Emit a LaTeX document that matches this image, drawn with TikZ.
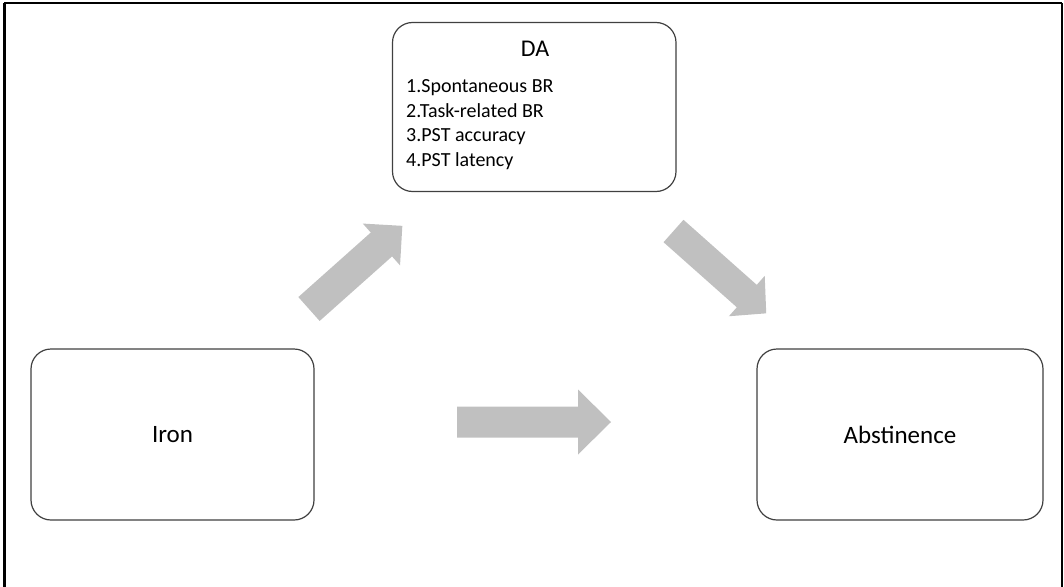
\documentclass[tikz,border=0pt]{standalone}
\usepackage{fontspec}
\setmainfont{Carlito}
\definecolor{boxline}{RGB}{64,64,64}
\definecolor{arrowfill}{RGB}{192,192,192}
\tikzset{
  roundbox/.style={draw=boxline, line width=1.2pt, rounded corners=20pt, fill=white},
  blockarrow/.style={fill=arrowfill, draw=none},
  label/.style={inner sep=0pt, font=\fontsize{25}{30}\selectfont},
  listitem/.style={inner sep=0pt, anchor=base west, font=\fontsize{20}{24}\selectfont}
}
% block arrow along the local x axis: tail at origin, length #1, shaft width #2,
% head width #3, head length #4
\newcommand{\blockarr}[4]{%
  \fill[blockarrow] (0,-#2/2) -- (#1-#4,-#2/2) -- (#1-#4,-#3/2) -- (#1,0)
    -- (#1-#4,#3/2) -- (#1-#4,#2/2) -- (0,#2/2) -- cycle;}
\begin{document}
\begin{tikzpicture}[x=1pt,y=-1pt]
\useasboundingbox (0,0) rectangle (1064,586);
% page frame
\draw[line width=3pt] (4,590) -- (4,3);
\draw[line width=1.5pt] (4,3) -- (1062,3);
\draw[line width=2.5pt] (1062,3) -- (1062,590);

% boxes
\node[roundbox, minimum width=283.5pt, minimum height=169pt, inner sep=0pt] (da) at (534.25,107) {};
\node[roundbox, minimum width=283pt, minimum height=171pt, inner sep=0pt] (iron) at (172.5,434.5) {};
\node[roundbox, minimum width=286pt, minimum height=171pt, inner sep=0pt] (abst) at (900,434.5) {};

% texts
\node[inner sep=0pt, anchor=base, font=\fontsize{24}{28}\selectfont] (datitle) at (535,56.5) {DA};
\node[listitem] (l1) at (406,92.5) {1.Spontaneous BR};
\node[listitem] (l2) at (406,117.2) {2.Task-related BR};
\node[listitem] (l3) at (406,141.9) {3.PST accuracy};
\node[listitem] (l4) at (406,166.6) {4.PST latency};
\node[label] (irontext) at (iron.center) {Iron};
\node[label] (absttext) at (abst.center) {Abstinence};

% block arrows
\begin{scope}[shift={(309,309)}, rotate=41.7]
  \blockarr{125}{32}{56}{28}
\end{scope}
\begin{scope}[shift={(673.5,231)}, rotate=-41.6]
  \blockarr{124}{30}{54}{26}
\end{scope}
\begin{scope}[shift={(457,422)}]
  \blockarr{154}{31}{65}{33}
\end{scope}
\end{tikzpicture}
\end{document}
